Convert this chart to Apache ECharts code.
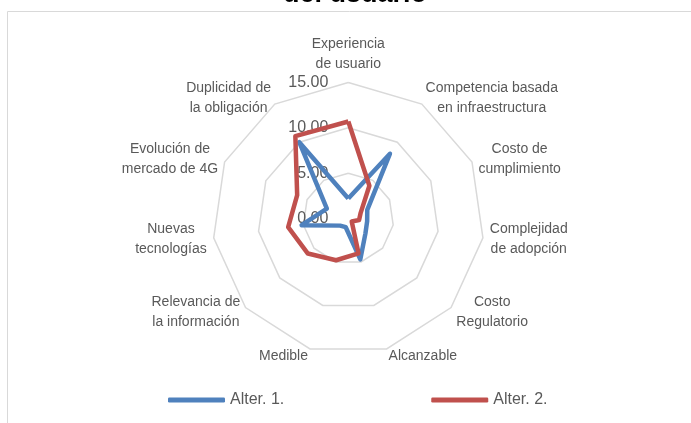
<!DOCTYPE html>
<html lang="es">
<head>
	<meta charset="UTF-8">
	<title>Radar</title>
	<style>
		* {
			margin: 0;
			padding: 0;
		}

		#box {
			width: 691px;
			height: 423px;
			background: #fff;
		}
	</style>
	<script src="https://cdn.jsdelivr.net/npm/echarts@6/dist/echarts.min.js"></script>
</head>
<body>
<div id="box"></div>
</body>
<script>
	// ejes del radar, en sentido horario desde arriba
	const categories = [
		'Experiencia\nde usuario',
		'Competencia basada\nen infraestructura',
		'Costo de\ncumplimiento',
		'Complejidad\nde adopción',
		'Costo\nRegulatorio',
		'Alcanzable',
		'Medible',
		'Relevancia de\nla información',
		'Nuevas\ntecnologías',
		'Evolución de\nmercado de 4G',
		'Duplicidad de\nla obligación'
	];
	const alter1 = [2.2, 8.5, 2.3, 2.1, 2.5, 4.7, 1.0, 1.2, 5.2, 2.6, 10.0];
	const alter2 = [10.7, 4.3, 1.5, 1.2, 0.5, 4.0, 4.8, 5.9, 6.7, 6.2, 10.8];
	const seriesNames = ['Alter. 1.', 'Alter. 2.'];
	const axisMin = 0;
	const axisMax = 15;
	const axisInterval = 5;

	// echarts dibuja el radar en sentido antihorario: se invierte el orden
	const order = categories.map(function (v, i) {
		return i === 0 ? 0 : categories.length - i;
	});

	const indicators = order.map(function (i, k) {
		const ind = {name: categories[i], min: axisMin, max: axisMax};
		if (k === 0) {
			ind.axisLabel = {show: true};
		}
		return ind;
	});

	const myEcharts = echarts.init(document.getElementById('box'));

	myEcharts.setOption({
		animation: false,
		title: {
			text: 'del usuario',
			left: 278,
			top: -24,
			textStyle: {
				fontFamily: 'Liberation Sans',
				fontWeight: 'bold',
				fontSize: 27,
				color: '#000'
			}
		},
		graphic: [{
			type: 'rect',
			shape: {x: 7.5, y: 11.5, width: 720, height: 430},
			style: {fill: 'none', stroke: '#d9d9d9', lineWidth: 1},
			silent: true
		}],
		legend: {
			left: 168,
			top: 392,
			padding: 0,
			itemWidth: 57,
			itemHeight: 5,
			itemGap: 147,
			icon: 'roundRect',
			textStyle: {
				fontFamily: 'Liberation Sans',
				fontSize: 16,
				color: '#595959'
			},
			data: seriesNames
		},
		radar: {
			center: [348.3, 218.5],
			radius: 136,
			shape: 'polygon',
			splitNumber: (axisMax - axisMin) / axisInterval,
			nameGap: 7,
			axisName: {
				color: '#595959',
				fontFamily: 'Liberation Sans',
				fontSize: 14,
				lineHeight: 20,
				formatter: function (name) {
					return name.split('\n').map(function (s) {
						return '{c|' + s + '}';
					}).join('\n');
				},
				rich: {
					c: {align: 'center', lineHeight: 20, fontSize: 14, fontFamily: 'Liberation Sans', color: '#595959'}
				}
			},
			axisLine: {show: false},
			axisTick: {show: false},
			axisLabel: {
				show: false,
				margin: 20,
				color: '#595959',
				fontFamily: 'Liberation Sans',
				fontSize: 16,
				formatter: function (v) {
					return v.toFixed(2);
				}
			},
			splitArea: {show: false},
			splitLine: {
				lineStyle: {color: '#d9d9d9', width: 1.5}
			},
			indicator: indicators
		},
		series: [{
			type: 'radar',
			symbol: 'none',
			data: [
				{
					name: seriesNames[0],
					value: order.map(function (i) { return alter1[i]; }),
					itemStyle: {color: '#4f81bd'},
					lineStyle: {color: '#4f81bd', width: 4.5, join: 'round'}
				},
				{
					name: seriesNames[1],
					value: order.map(function (i) { return alter2[i]; }),
					itemStyle: {color: '#c0504d'},
					lineStyle: {color: '#c0504d', width: 4.5, join: 'round'}
				}
			]
		}]
	});
</script>
</html>
